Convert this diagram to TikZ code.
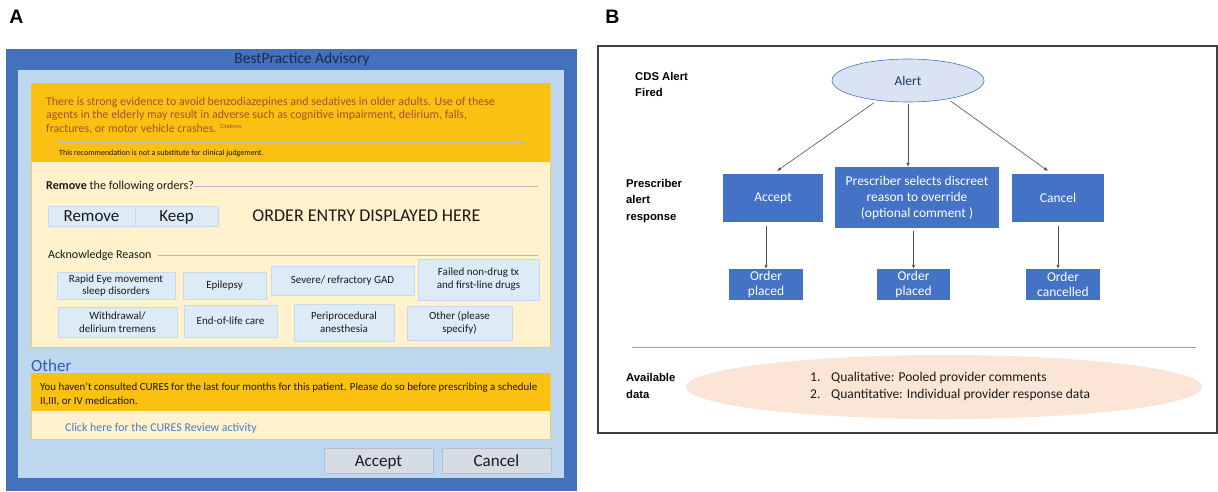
\documentclass[tikz,border=0pt]{standalone}
\usepackage{fontspec}
\setmainfont{Carlito}
\newfontfamily\arialfont{Liberation Sans}
\usetikzlibrary{shapes.geometric,arrows.meta}
\definecolor{epicblue}{HTML}{4471BC}
\definecolor{paneblue}{HTML}{BDD7EE}
\definecolor{warnorange}{HTML}{FAC012}
\definecolor{creamfill}{HTML}{FFF2CC}
\definecolor{creamedge}{HTML}{F5CF55}
\definecolor{warntext}{HTML}{A8502C}
\definecolor{darktext}{HTML}{1A1A1A}
\definecolor{titletext}{HTML}{1C2B48}
\definecolor{reasonfill}{HTML}{DDEBF7}
\definecolor{reasonedge}{HTML}{C3DAF0}
\definecolor{buttonfill}{HTML}{D6DCE4}
\definecolor{buttonedge}{HTML}{B4BECC}
\definecolor{othertitle}{HTML}{2F5FA8}
\definecolor{linkblue}{HTML}{4A7BC8}
\definecolor{flowblue}{HTML}{4472C4}
\definecolor{alertfill}{HTML}{DAE3F3}
\definecolor{alerttext}{HTML}{1F3864}
\definecolor{peachfill}{HTML}{FBE5D6}
\definecolor{arrowgray}{HTML}{505050}
\tikzset{
  reason/.style={draw=reasonedge,fill=reasonfill,line width=0.8pt,align=center,inner sep=0pt,text=darktext,font=\fontsize{11}{12.8}\selectfont},
  choice/.style={draw=reasonedge,fill=reasonfill,line width=0.8pt,inner sep=0pt,minimum height=20pt,text height=11pt,text depth=0pt,text=darktext,font=\fontsize{17}{18}\selectfont},
  dialogbtn/.style={draw=buttonedge,fill=buttonfill,line width=0.8pt,inner sep=0pt,minimum width=109pt,minimum height=25pt,text height=11pt,text depth=0pt,text=darktext,font=\fontsize{17}{18}\selectfont},
  flowbox/.style={fill=flowblue,text=white,align=center,inner sep=0pt,font=\fontsize{13.5}{16}\selectfont},
  orderbox/.style={flowbox,minimum width=74pt,minimum height=31pt,font=\fontsize{13.5}{14.5}\selectfont},
  rowlabel/.style={anchor=west,align=left,inner sep=0pt,font=\arialfont\bfseries\fontsize{11.3}{16.5}\selectfont},
  flowarrow/.style={draw=arrowgray,line width=0.6pt,-{Latex[length=4pt,width=3.5pt]}},
  rulegray/.style={draw=gray!55,line width=0.8pt}
}
\begin{document}
\begin{tikzpicture}[x=1pt,y=-1pt]
\useasboundingbox (0,0) rectangle (1218,491);
\node[font=\arialfont\bfseries\fontsize{19.5}{20}\selectfont] (labelA) at (16.5,17) {A};
\node[font=\arialfont\bfseries\fontsize{19.5}{20}\selectfont] (labelB) at (612.5,17) {B};
\fill[epicblue] (6,49) rectangle (577,491);
\node[text=titletext,font=\fontsize{15.5}{17}\selectfont] (advisory) at (302,59) {BestPractice Advisory};
\fill[paneblue] (18,70) rectangle (564,478);
\filldraw[fill=creamfill,draw=creamedge,line width=0.8pt] (31,83) rectangle (550,347);
\fill[warnorange] (31,83) rectangle (550,162);
\node[anchor=west,align=left,inner sep=0pt,text=warntext,font=\fontsize{11.9}{13.6}\selectfont] (evidence) at (46,115.5)
  {There is strong evidence to avoid benzodiazepines and sedatives in older adults. Use of these\\
   agents in the elderly may result in adverse such as cognitive impairment, delirium, falls,\\
   fractures, or motor vehicle crashes. \raisebox{3.5pt}{\fontsize{6}{6}\selectfont Citations}};
\draw[rulegray] (58,142) -- (524,142);
\node[anchor=west,inner sep=0pt,text=darktext,font=\fontsize{8}{9}\selectfont] (disclaimer) at (59,153) {This recommendation is not a substitute for clinical judgement.};
\node[anchor=west,inner sep=0pt,text=darktext,font=\fontsize{12.1}{13}\selectfont] (removehead) at (46,186) {\textbf{Remove} the following orders?};
\draw[rulegray] (removehead.east) -- (538,186);
\node[choice,minimum width=87pt] (remove) at (91.5,216) {Remove};
\node[choice,minimum width=83pt] (keep) at (176.5,216) {Keep};
\node[text=darktext,font=\fontsize{18}{20}\selectfont] (orderentry) at (366.5,216) {ORDER ENTRY DISPLAYED HERE};
\node[anchor=west,inner sep=0pt,text=darktext,font=\fontsize{12}{13}\selectfont] (ackhead) at (48,255) {Acknowledge Reason};
\draw[rulegray] ([xshift=6pt]ackhead.east) -- (538,255);
\node[reason,minimum width=118pt,minimum height=27pt] (rem) at (116,285.5) {Rapid Eye movement\\sleep disorders};
\node[reason,minimum width=83pt,minimum height=27pt] (epilepsy) at (224.5,285.5) {Epilepsy};
\node[reason,minimum width=143pt,minimum height=29pt] (gad) at (342.5,280.5) {Severe/ refractory GAD};
\node[reason,minimum width=121pt,minimum height=41pt] (failed) at (478.5,279.5) {Failed non-drug tx\\and first-line drugs};
\node[reason,minimum width=119pt,minimum height=30pt] (withdrawal) at (117.5,322) {Withdrawal/\\delirium tremens};
\node[reason,minimum width=93pt,minimum height=32pt] (endoflife) at (230.5,321) {End-of-life care};
\node[reason,minimum width=100pt,minimum height=37pt] (periproc) at (344,322.5) {Periprocedural\\anesthesia};
\node[reason,minimum width=105pt,minimum height=34pt] (otherreason) at (459.5,323) {Other (please\\specify)};
\node[anchor=west,inner sep=0pt,text=othertitle,font=\fontsize{17}{18}\selectfont] (otherhead) at (31,366) {Other};
\filldraw[fill=creamfill,draw=creamedge,line width=0.8pt] (31,373) rectangle (550,439);
\fill[warnorange] (31,373) rectangle (550,411);
\node[anchor=west,align=left,inner sep=0pt,text=darktext,font=\fontsize{10.9}{14}\selectfont] (cures) at (40,394)
  {You haven’t consulted CURES for the last four months for this patient. Please do so before prescribing a schedule\\
   II,III, or IV medication.};
\node[anchor=west,inner sep=0pt,text=linkblue,font=\fontsize{11.9}{13}\selectfont] (cureslink) at (65,428) {Click here for the CURES Review activity};
\node[dialogbtn] (acceptbtn) at (378.5,460.5) {Accept};
\node[dialogbtn] (cancelbtn) at (496.5,460.5) {Cancel};
\draw[draw=black!75,line width=1.2pt] (598,46) rectangle (1217,433);
\node[rowlabel] (firedlabel) at (635,84.5) {CDS Alert\\Fired};
\node[rowlabel] (responselabel) at (626,201) {Prescriber\\alert\\response};
\node[rowlabel] (datalabel) at (626,386) {Available\\data};
\node[ellipse,draw=flowblue,fill=alertfill,line width=0.6pt,minimum width=152pt,minimum height=43pt,text=alerttext,font=\fontsize{13.5}{16}\selectfont] (alert) at (908,80.5) {Alert};
\node[flowbox,minimum width=100pt,minimum height=48pt] (accept) at (773,198) {Accept};
\node[flowbox,minimum width=164pt,minimum height=61pt] (override) at (917,197.5) {Prescriber selects discreet\\reason to override\\(optional comment )};
\node[flowbox,minimum width=92pt,minimum height=48pt] (cancel) at (1058,198) {Cancel};
\node[orderbox] (placedA) at (766,284.5) {Order\\placed};
\node[orderbox,minimum width=73pt] (placedB) at (913.5,284.5) {Order\\placed};
\node[orderbox] (cancelled) at (1063,284.5) {Order\\cancelled};
\draw[flowarrow,shorten <=4pt,shorten >=5pt] (alert.213) -- (accept.north);
\draw[flowarrow,shorten <=2pt] (alert.south) -- (alert.south |- override.north);
\draw[flowarrow,shorten <=3pt,shorten >=5pt] (alert.335) -- ([xshift=-6pt]cancel.north);
\draw[flowarrow,shorten <=4pt] (placedA.north |- accept.south) -- (placedA.north);
\draw[flowarrow,shorten <=3pt] (placedB.north |- override.south) -- (placedB.north);
\draw[flowarrow,shorten <=4pt] (cancel.south) -- (cancel.south |- cancelled.north);
\draw[draw=gray!75,line width=0.8pt] (632,347) -- (1196,347);
\node[ellipse,fill=peachfill,minimum width=516pt,minimum height=64pt] (dataoval) at (944,387) {};
\node[anchor=west,align=left,inner sep=0pt,text=darktext,font=\fontsize{13.5}{17}\selectfont] (datalist) at (810,386)
  {\makebox[21pt][l]{1.}Qualitative: Pooled provider comments\\
   \makebox[21pt][l]{2.}Quantitative: Individual provider response data};
\end{tikzpicture}
\end{document}
